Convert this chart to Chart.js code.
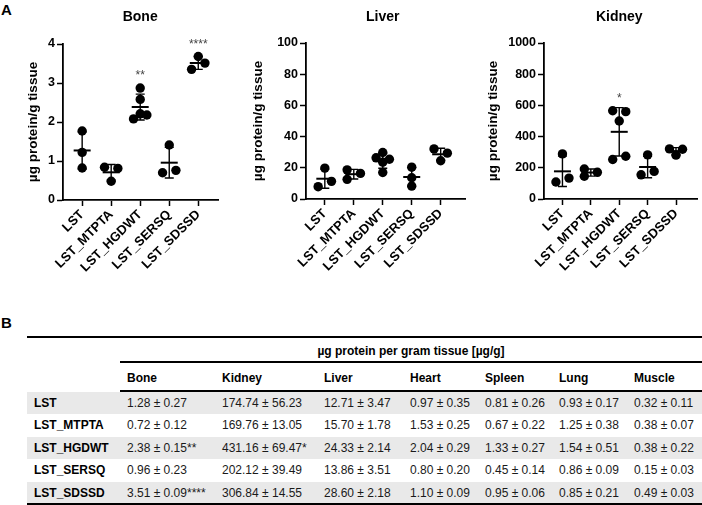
<!DOCTYPE html>
<html><head><meta charset="utf-8">
<script src="https://cdn.jsdelivr.net/npm/chart.js@4.4.1/dist/chart.umd.min.js"></script>
<style>
html,body{margin:0;padding:0;background:#fff;}
body{width:702px;height:505px;position:relative;overflow:hidden;font-family:"Liberation Sans",Arial,Helvetica,sans-serif;color:#000;}
.cv{position:absolute;top:0;}
.panel{position:absolute;font-weight:bold;font-size:15px;line-height:16px;}
.t{position:absolute;height:16px;line-height:16px;font-size:12px;white-space:nowrap;}
.b{font-weight:bold;color:#000;}
.v{color:#1a1a1a;}
.rule{position:absolute;background:#000;}
.shade{position:absolute;background:#e9e9e9;}
</style></head><body>
<div class="panel" style="left:1px;top:2px">A</div>
<div class="panel" style="left:1px;top:315px">B</div>
<canvas id="c0" class="cv" width="230" height="285" style="left:0px"></canvas>
<canvas id="c1" class="cv" width="240" height="285" style="left:230px"></canvas>
<canvas id="c2" class="cv" width="232" height="285" style="left:470px"></canvas>
<div id="table"></div>
<script>
// ---------- data ----------
const groups = ["LST", "LST_MTPTA", "LST_HGDWT", "LST_SERSQ", "LST_SDSSD"];
const panelTitles = ["Bone", "Liver", "Kidney"];
const yAxisTitle = "µg protein/g tissue";

const boneValues = [[1.77, 1.22, 0.82], [0.84, 0.81, 0.48], [2.87, 2.58, 2.21, 2.08, 2.18], [1.41, 0.70, 0.76], [3.68, 3.35, 3.51]];
const liverValues = [[19.8, 11.3, 7.9], [18.7, 12.6, 16.4], [29.8, 26.4, 25.5, 23.6, 17.0], [20.4, 13.6, 8.3], [32.1, 29.4, 24.5]];
const kidneyValues = [[289, 134, 109], [192, 146, 171], [566, 560, 500, 253, 274], [283, 155, 177], [321, 319, 281]];

const boneStars = ["", "", "**", "", "****"];
const liverStars = ["", "", "", "", ""];
const kidneyStars = ["", "", "*", "", ""];

const boneTicks = [0, 1, 2, 3, 4];
const liverTicks = [0, 20, 40, 60, 80, 100];
const kidneyTicks = [0, 200, 400, 600, 800, 1000];

// horizontal placement of replicate dots (-1 left, 0 centre, 1 right)
const boneJitter = [[0, 0, 0], [-1, 1, 0], [0, 0, 0, -1, 1], [0, -1, 1], [0, -1, 1]];
const liverJitter = [[0, 1, -1], [-1, -1, 1], [0, -1, 1, 0, 0], [0, 0, 0], [-1, 1, 0]];
const kidneyJitter = [[0, 1, -1], [-1, -1, 1], [-1, 1, 0, -1, 1], [0, -1, 1], [-1, 1, 0]];

// table B
const tissues = ["Bone", "Kidney", "Liver", "Heart", "Spleen", "Lung", "Muscle"];
const tableHeader = "µg protein per gram tissue [µg/g]";
const tableMean = [
  [1.28, 174.74, 12.71, 0.97, 0.81, 0.93, 0.32],
  [0.72, 169.76, 15.70, 1.53, 0.67, 1.25, 0.38],
  [2.38, 431.16, 24.33, 2.04, 1.33, 1.54, 0.38],
  [0.96, 202.12, 13.86, 0.80, 0.45, 0.86, 0.15],
  [3.51, 306.84, 28.60, 1.10, 0.95, 0.85, 0.49]
];
const tableSem = [
  [0.27, 56.23, 3.47, 0.35, 0.26, 0.17, 0.11],
  [0.12, 13.05, 1.78, 0.25, 0.22, 0.38, 0.07],
  [0.15, 69.47, 2.14, 0.29, 0.27, 0.51, 0.22],
  [0.23, 39.49, 3.51, 0.20, 0.14, 0.09, 0.03],
  [0.09, 14.55, 2.18, 0.09, 0.06, 0.21, 0.03]
];
const tableSig = [
  ["", "", "", "", "", "", ""],
  ["", "", "", "", "", "", ""],
  ["**", "*", "", "", "", "", ""],
  ["", "", "", "", "", "", ""],
  ["****", "", "", "", "", "", ""]
];

// ---------- charts ----------
const FONT = '"Liberation Sans", Arial, Helvetica, sans-serif';
const JIT = 0.23;

const meanSD = {
  id: 'meanSD',
  afterDatasetsDraw(chart, args, opts) {
    const {ctx, scales: {x, y}} = chart;
    ctx.save();
    ctx.strokeStyle = '#000';
    opts.values.forEach((arr, i) => {
      const n = arr.length;
      const m = arr.reduce((a, b) => a + b, 0) / n;
      const sd = Math.sqrt(arr.reduce((a, b) => a + (b - m) * (b - m), 0) / (n - 1));
      const cx = x.getPixelForValue(i);
      const ym = y.getPixelForValue(m);
      const yt = y.getPixelForValue(m + sd);
      const yb = y.getPixelForValue(m - sd);
      ctx.lineWidth = 1.4;
      ctx.beginPath();
      ctx.moveTo(cx, yt); ctx.lineTo(cx, yb);
      ctx.moveTo(cx - 4.5, yt); ctx.lineTo(cx + 4.5, yt);
      ctx.moveTo(cx - 4.5, yb); ctx.lineTo(cx + 4.5, yb);
      ctx.stroke();
      ctx.lineWidth = 2;
      ctx.beginPath();
      ctx.moveTo(cx - 8.5, ym); ctx.lineTo(cx + 8.5, ym);
      ctx.stroke();
      const s = opts.stars[i];
      if (s) {
        ctx.fillStyle = '#444';
        ctx.font = '12px ' + FONT;
        ctx.textAlign = 'center';
        ctx.textBaseline = 'middle';
        ctx.fillText(s, cx, y.getPixelForValue(Math.max(...arr)) - 12);
      }
    });
    ctx.restore();
  }
};

const panelTitle = {
  id: 'panelTitle',
  afterDraw(chart, args, opts) {
    const {ctx, scales: {x}} = chart;
    ctx.save();
    ctx.fillStyle = '#000';
    ctx.font = 'bold 14px ' + FONT;
    ctx.textAlign = 'center';
    ctx.textBaseline = 'middle';
    ctx.fillText(opts.text, x.getPixelForValue(2), 17);
    ctx.restore();
  }
};

function makeChart(id, title, values, jitter, stars, ticks, geo) {
  const pts = [];
  values.forEach((arr, i) => arr.forEach((v, j) => pts.push({x: i + jitter[i][j] * JIT, y: v})));
  const axisGrid = {drawOnChartArea: false, drawTicks: true, tickLength: 6, tickColor: '#000', tickWidth: 1.5};
  const axisBorder = {display: true, color: '#000', width: 1.8};
  return new Chart(document.getElementById(id), {
    type: 'scatter',
    data: {datasets: [{data: pts, backgroundColor: '#000', borderWidth: 0, pointRadius: 4.7, pointHoverRadius: 4.7}]},
    options: {
      responsive: false, animation: false, events: [],
      layout: {padding: {top: geo.top, right: geo.right, left: 0, bottom: 0}},
      plugins: {legend: {display: false}, tooltip: {enabled: false},
        meanSD: {values: values, stars: stars}, panelTitle: {text: title}},
      scales: {
        x: {
          type: 'linear', min: geo.xmin, max: geo.xmax,
          afterBuildTicks: s => { s.ticks = groups.map((g, i) => ({value: i})); },
          afterFit: s => { s.height = geo.xh; },
          ticks: {autoSkip: false, minRotation: 45, maxRotation: 45, padding: 1, color: '#000',
            font: {family: FONT, size: 13, weight: 'bold'}, callback: v => groups[v]},
          grid: axisGrid, border: axisBorder
        },
        y: {
          min: ticks[0], max: ticks[ticks.length - 1],
          afterBuildTicks: s => { s.ticks = ticks.map(v => ({value: v})); },
          afterFit: s => { s.width = geo.yw; },
          ticks: {padding: 2, color: '#000', font: {family: FONT, size: 12.5, weight: 'bold'},
            callback: v => String(v)},
          title: {display: true, text: yAxisTitle, color: '#000', font: {family: FONT, size: 13.5, weight: 'bold'},
            padding: {top: geo.tpad, bottom: 0}},
          grid: axisGrid, border: axisBorder
        }
      }
    },
    plugins: [meanSD, panelTitle]
  });
}

makeChart('c0', panelTitles[0], boneValues, boneJitter, boneStars, boneTicks,
  {top: 44, right: 12, xh: 85, yw: 63, xmin: -0.66, xmax: 4.68, tpad: 25});
makeChart('c1', panelTitles[1], liverValues, liverJitter, liverStars, liverTicks,
  {top: 43, right: 3, xh: 86, yw: 76, xmin: -0.65, xmax: 4.85, tpad: 20.5});
makeChart('c2', panelTitles[2], kidneyValues, kidneyJitter, kidneyStars, kidneyTicks,
  {top: 43, right: 0, xh: 86, yw: 74, xmin: -0.65, xmax: 4.75, tpad: 15.5});

// ---------- table ----------
const T = document.getElementById('table');
function add(cls, style, text) {
  const d = document.createElement('div');
  d.className = cls; d.setAttribute('style', style);
  if (text !== undefined) d.textContent = text;
  T.appendChild(d);
}
const colX = [34, 127, 222, 324, 410, 485, 559, 634];
const rowTop0 = 391.5, rowH = 22.5;
groups.forEach((g, r) => {
  if (r % 2 === 0) add('shade', `left:27px;width:675px;top:${rowTop0 + r * rowH}px;height:${rowH}px`);
});
add('rule', 'left:27px;width:675px;top:335.5px;height:2px');
add('rule', 'left:120px;width:582px;top:361px;height:1.5px');
add('rule', 'left:120px;width:582px;top:390px;height:2px');
add('rule', 'left:27px;width:675px;top:503px;height:1.6px');
add('t b', 'left:120px;width:582px;top:343px;text-align:center', tableHeader);
tissues.forEach((t, c) => add('t b', `left:${colX[c + 1]}px;top:370px`, t));
groups.forEach((g, r) => {
  const yc = rowTop0 + r * rowH + rowH / 2 - 8;
  add('t b', `left:${colX[0]}px;top:${yc}px`, g);
  tissues.forEach((t, c) => add('t v', `left:${colX[c + 1]}px;top:${yc}px`,
    tableMean[r][c].toFixed(2) + ' ± ' + tableSem[r][c].toFixed(2) + tableSig[r][c]));
});
</script>
</body></html>
